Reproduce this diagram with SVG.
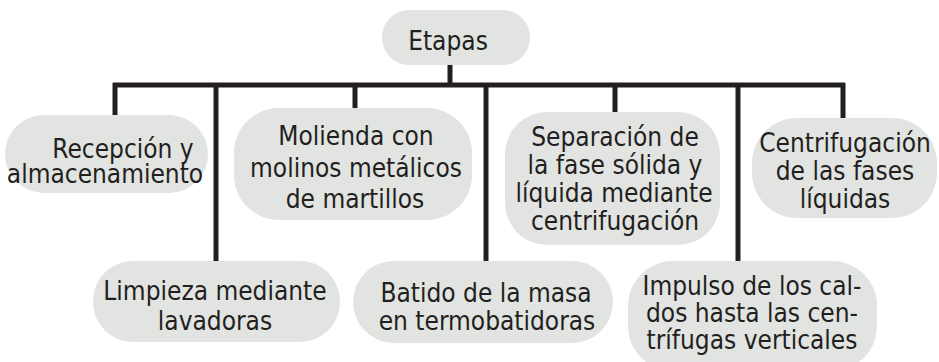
<svg xmlns="http://www.w3.org/2000/svg" width="939" height="362" viewBox="0 0 939 362">
<style>
.box{fill:#e1e4e1;}
.t{font-family:"DejaVu Sans Condensed","DejaVu Sans","Liberation Sans",sans-serif;font-stretch:condensed;font-size:26px;fill:#231f20;text-anchor:middle;}
.c{stroke:#231f20;stroke-width:5;fill:none;stroke-linecap:butt;}
</style>
<rect width="939" height="362" fill="#ffffff"/>
<g id="connectors">
<path class="c" d="M113 85 H845"/>
<path class="c" d="M450 65 V85"/>
<path class="c" d="M115 83 V116"/>
<path class="c" d="M216 85 V262"/>
<path class="c" d="M355 85 V109"/>
<path class="c" d="M486 85 V262"/>
<path class="c" d="M615 85 V113"/>
<path class="c" d="M738 85 V262"/>
<path class="c" d="M843 83 V119"/>
</g>
<g id="etapas">
<rect class="box" x="382" y="10" width="148" height="55" rx="27"/>
<text class="t" x="448" y="50">Etapas</text>
</g>
<g id="recepcion">
<rect class="box" x="5" y="115" width="203" height="78" rx="39"/>
<text class="t" x="123" y="158">Recepción y</text>
<text class="t" x="105" y="183">almacenamiento</text>
</g>
<g id="molienda">
<rect class="box" x="234" y="108" width="238" height="112" rx="45"/>
<text class="t" x="356" y="145">Molienda con</text>
<text class="t" x="356" y="177">molinos metálicos</text>
<text class="t" x="355" y="208">de martillos</text>
</g>
<g id="separacion">
<rect class="box" x="505" y="112" width="215" height="133" rx="42"/>
<text class="t" x="615" y="146">Separación de</text>
<text class="t" x="615" y="174">la fase sólida y</text>
<text class="t" x="614" y="202">líquida mediante</text>
<text class="t" x="615" y="230">centrifugación</text>
</g>
<g id="centrifugacion">
<rect class="box" x="752" y="118" width="185" height="100" rx="45"/>
<text class="t" x="845" y="152">Centrifugación</text>
<text class="t" x="845" y="180">de las fases</text>
<text class="t" x="845" y="208">líquidas</text>
</g>
<g id="limpieza">
<rect class="box" x="93" y="261" width="247" height="81" rx="40"/>
<text class="t" x="215" y="300">Limpieza mediante</text>
<text class="t" x="215" y="330">lavadoras</text>
</g>
<g id="batido">
<rect class="box" x="353" y="261" width="260" height="82" rx="41"/>
<text class="t" x="486" y="302">Batido de la masa</text>
<text class="t" x="487" y="330">en termobatidoras</text>
</g>
<g id="impulso">
<rect class="box" x="628" y="261" width="249" height="110" rx="45"/>
<text class="t" x="752" y="295">Impulso de los cal-</text>
<text class="t" x="752" y="322">dos hasta las cen-</text>
<text class="t" x="752" y="349">trífugas verticales</text>
</g>
</svg>
